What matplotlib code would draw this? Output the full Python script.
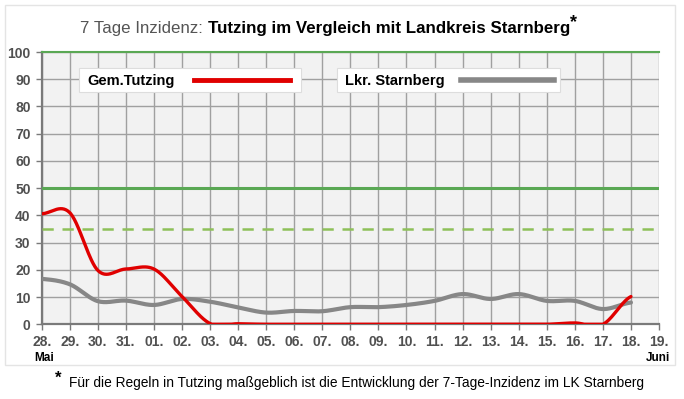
import numpy as np
import matplotlib
matplotlib.use("Agg")
import matplotlib.pyplot as plt
from matplotlib.patches import Rectangle
from matplotlib.lines import Line2D

# ---- data ----
tick_labels = ["28.", "29.", "30.", "31.", "01.", "02.", "03.", "04.", "05.", "06.",
               "07.", "08.", "09.", "10.", "11.", "12.", "13.", "14.", "15.", "16.",
               "17.", "18.", "19."]
tutzing = [40.6, 41.0, 19.8, 20.3, 20.3, 10.2, 0.3, 0.2, 0, 0, 0, 0, 0, 0, 0, 0,
           0, 0, 0, 0.5, 0, 10.2]
starnberg = [16.7, 14.7, 8.5, 8.7, 7.1, 9.3, 8.3, 6.2, 4.3, 4.9, 4.8, 6.3, 6.3,
             7.1, 8.6, 11.1, 9.3, 11.1, 8.6, 8.6, 5.6, 8.0]
threshold_solid = 50
threshold_dash = 35
y_ticks = list(range(0, 101, 10))

W, H = 684, 399
SANS = ["Liberation Sans", "DejaVu Sans"]


def smooth(y, n=30):
    """Catmull-Rom smoothing (like spreadsheet 'smoothed line')."""
    y = np.asarray(y, float)
    x = np.arange(len(y), dtype=float)
    p = np.concatenate([[y[0]], y, [y[-1]]])
    xs, ys = [], []
    for i in range(len(y) - 1):
        p0, p1, p2, p3 = p[i], p[i + 1], p[i + 2], p[i + 3]
        t = np.linspace(0, 1, n, endpoint=(i == len(y) - 2))
        v = 0.5 * ((2 * p1) + (-p0 + p2) * t + (2 * p0 - 5 * p1 + 4 * p2 - p3) * t ** 2
                   + (-p0 + 3 * p1 - 3 * p2 + p3) * t ** 3)
        xs.append(x[i] + t)
        ys.append(v)
    return np.concatenate(xs), np.maximum(np.concatenate(ys), 0)


fig = plt.figure(figsize=(W / 100, H / 100), dpi=100)
fig.patch.set_facecolor("white")

# outer frame
fig.add_artist(Rectangle((5 / W, 1 - 365 / H), 670 / W, 360 / H, transform=fig.transFigure,
                         facecolor="white", edgecolor="#e4e4e4", lw=1, zorder=0))

left, right, top, bottom = 41.7, 659, 52, 324.3
ax = fig.add_axes([left / W, 1 - bottom / H, (right - left) / W, (bottom - top) / H])
ax.set_facecolor("#f2f2f2")
ax.set_xlim(0, len(tick_labels) - 1)
ax.set_ylim(0, 100)

ax.set_xticks(range(len(tick_labels)))
ax.set_xticklabels(tick_labels)
ax.set_yticks(y_ticks)
ax.grid(True, color="#a0a0a0", lw=1)
ax.set_axisbelow(True)
for s in ["top", "right"]:
    ax.spines[s].set_visible(False)
for s in ["left", "bottom"]:
    ax.spines[s].set_color("#7a7a7a")
    ax.spines[s].set_linewidth(1.6)
ax.tick_params(axis="both", length=4, width=1, color="#7a7a7a", pad=4)
for lab in ax.get_xticklabels() + ax.get_yticklabels():
    lab.set_fontfamily(SANS)
    lab.set_fontweight("bold")
    lab.set_fontsize(10)
    lab.set_color("#505050")

ax.axhline(100, color="#5aa854", lw=1.5, zorder=3, clip_on=False)
ax.axhline(threshold_solid, color="#5aa854", lw=2.2, zorder=3)
ax.axhline(threshold_dash, color="#8ec059", lw=1.8, ls=(0, (4.5, 3.5)), zorder=3)

xs, ys = smooth(starnberg)
ax.plot(xs, ys, color="#878787", lw=3, solid_capstyle="round", zorder=4)
xr, yr = smooth(tutzing)
ax.plot(xr, yr, color="#e00000", lw=2.4, solid_capstyle="round", zorder=5)

# month labels
fig.text(34 / W, 1 - 358 / H, "Mai", fontsize=8.5, weight="bold",
         family=SANS, va="center", ha="left")
fig.text(670 / W, 1 - 358 / H, "Juni", fontsize=8.5, weight="bold",
         family=SANS, va="center", ha="right")


# legend boxes
def legend_box(x0, x1, label, color, lw, lx0, lx1):
    fig.add_artist(Rectangle((x0 / W, 1 - 92 / H), (x1 - x0) / W, 24 / H,
                             transform=fig.transFigure, facecolor="white",
                             edgecolor="#dddddd", lw=0.8, zorder=6))
    fig.text((x0 + 8) / W, 1 - 81 / H, label, fontsize=10.5, weight="bold",
             family=SANS, va="center", ha="left", zorder=7)
    fig.add_artist(Line2D([lx0 / W, lx1 / W], [1 - 80 / H, 1 - 80 / H],
                          transform=fig.transFigure, color=color, lw=lw, zorder=7))


legend_box(79, 301, "Gem.Tutzing", "#e00000", 3.5, 194, 290)
legend_box(337, 560, "Lkr. Starnberg", "#878787", 4, 461, 554)

# title
t1 = fig.text(80 / W, 1 - 33 / H, "7 Tage Inzidenz: ", fontsize=12.2, color="#555555",
              family=SANS, va="baseline", ha="left")
ann = fig.text(0, 0, "")
ann = plt.annotate("Tutzing im Vergleich mit Landkreis Starnberg", xy=(1, 0), xycoords=t1,
                   va="bottom", ha="left", fontsize=12.2, weight="bold",
                   family=SANS, color="black", annotation_clip=False)
plt.annotate("*", xy=(1, 0.35), xycoords=ann, va="bottom", ha="left", fontsize=13,
             weight="bold", family=SANS, annotation_clip=False)

# footnote
fig.text(55 / W, 1 - 378 / H, "*", fontsize=12, weight="bold",
         family=SANS, va="center", ha="left")
fig.text(69 / W, 1 - 383 / H,
         "Für die Regeln in Tutzing maßgeblich ist die Entwicklung der 7-Tage-Inzidenz im LK Starnberg",
         fontsize=9.9, family=SANS, va="center", ha="left")

fig.savefig("out.png", dpi=100)
